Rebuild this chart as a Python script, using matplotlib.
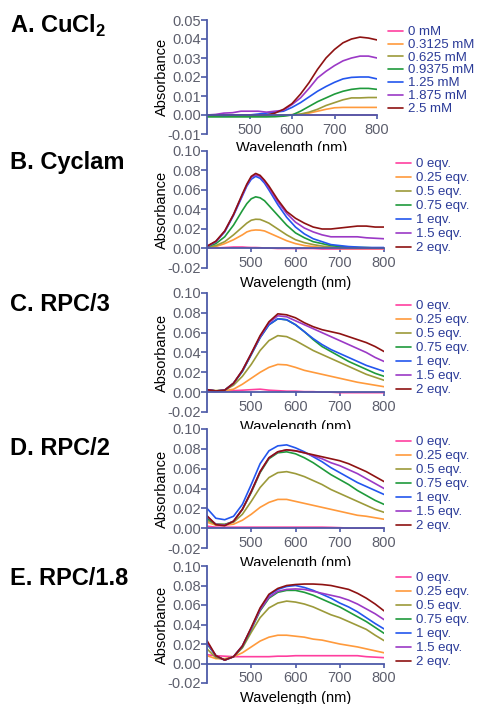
import matplotlib
matplotlib.use("Agg")
import matplotlib.pyplot as plt

plt.rcParams['font.family'] = ['Liberation Sans', 'DejaVu Sans']
plt.rcParams['mathtext.fontset'] = 'custom'
plt.rcParams['mathtext.rm'] = 'Liberation Sans'
plt.rcParams['mathtext.bf'] = 'Liberation Sans:bold'
plt.rcParams['axes.unicode_minus'] = False

# ---------------- data ----------------
wl_a = [400, 420, 440, 460, 480, 500, 520, 540, 560, 580, 600, 620, 640, 660, 680, 700, 720, 740, 760, 780, 800]
cucl2_labels = ["0 mM", "0.3125 mM", "0.625 mM", "0.9375 mM", "1.25 mM", "1.875 mM", "2.5 mM"]
cucl2_0 = [0.0, 0.0, 0.0, 0.0, 0.0, 0.0, 0.0, 0.0, 0.0, 0.0, 0.0, 0.0, 0.0, 0.0, 0.0, 0.0, 0.0, 0.0, 0.0, 0.0, 0.0]
cucl2_1 = [0.0, 0.0, -0.0003, -0.0005, -0.0005, -0.0005, -0.0005, -0.0003, 0.0, 0.0, 0.0002, 0.0004, 0.001, 0.002, 0.003, 0.0038, 0.004, 0.004, 0.004, 0.004, 0.004]
cucl2_2 = [-0.0005, -0.0005, -0.0005, -0.0005, -0.0005, -0.0005, -0.0005, -0.0005, -0.0005, -0.0003, 0.0, 0.0005, 0.0015, 0.003, 0.005, 0.0065, 0.008, 0.009, 0.009, 0.0092, 0.0092]
cucl2_3 = [-0.001, -0.001, -0.001, -0.001, -0.001, -0.001, -0.001, -0.001, -0.0009, -0.0006, 0.0, 0.002, 0.0045, 0.007, 0.009, 0.011, 0.0125, 0.0135, 0.014, 0.014, 0.0135]
cucl2_4 = [0.0, 0.0, -0.0002, 0.0, 0.0, 0.0, 0.0005, 0.001, 0.0015, 0.002, 0.004, 0.0065, 0.0095, 0.0125, 0.015, 0.0172, 0.019, 0.0198, 0.020, 0.020, 0.019]
cucl2_5 = [0.0, 0.0003, 0.001, 0.0012, 0.002, 0.002, 0.002, 0.0015, 0.002, 0.0025, 0.0055, 0.009, 0.014, 0.0195, 0.023, 0.026, 0.0285, 0.030, 0.031, 0.031, 0.030]
cucl2_6 = [0.0, 0.0, 0.0, 0.0, 0.0, 0.0, 0.0, 0.0, 0.001, 0.003, 0.006, 0.011, 0.017, 0.024, 0.030, 0.0345, 0.038, 0.040, 0.041, 0.0405, 0.0395]

eqv_labels = ["0 eqv.", "0.25 eqv.", "0.5 eqv.", "0.75 eqv.", "1 eqv.", "1.5 eqv.", "2 eqv."]

wl_b = [400, 420, 440, 460, 480, 490, 500, 510, 520, 530, 540, 560, 580, 600, 620, 640, 660, 680, 700, 720, 740, 760, 780, 800]
cyclam_0 = [0.0005, 0.0005, 0.001, 0.0015, 0.0015, 0.0012, 0.001, 0.001, 0.0008, 0.0005, 0.0005, 0.0, 0.0, 0.0, 0.0, 0.0, -0.0005, -0.0005, -0.0005, -0.0005, -0.0005, -0.0005, -0.0005, -0.0005]
cyclam_1 = [0.001, 0.002, 0.005, 0.009, 0.014, 0.017, 0.0185, 0.019, 0.0188, 0.018, 0.016, 0.012, 0.008, 0.005, 0.003, 0.002, 0.001, 0.0005, 0.0, 0.0, 0.0, 0.0, 0.0, 0.0]
cyclam_2 = [0.0015, 0.003, 0.007, 0.014, 0.022, 0.026, 0.029, 0.030, 0.0298, 0.028, 0.026, 0.020, 0.014, 0.009, 0.006, 0.004, 0.0025, 0.0015, 0.001, 0.0005, 0.0005, 0.0005, 0.0005, 0.0005]
cyclam_3 = [0.002, 0.005, 0.012, 0.024, 0.039, 0.046, 0.051, 0.053, 0.052, 0.049, 0.044, 0.034, 0.024, 0.016, 0.011, 0.007, 0.005, 0.003, 0.002, 0.0015, 0.001, 0.001, 0.0005, 0.0005]
cyclam_4 = [0.002, 0.007, 0.017, 0.034, 0.054, 0.064, 0.071, 0.074, 0.072, 0.067, 0.060, 0.045, 0.032, 0.022, 0.015, 0.010, 0.007, 0.004, 0.003, 0.002, 0.0015, 0.001, 0.001, 0.001]
cyclam_5 = [0.002, 0.007, 0.0175, 0.035, 0.055, 0.065, 0.073, 0.0755, 0.074, 0.069, 0.062, 0.048, 0.036, 0.027, 0.021, 0.017, 0.014, 0.012, 0.012, 0.012, 0.012, 0.011, 0.0105, 0.010]
cyclam_6 = [0.0024, 0.0075, 0.018, 0.035, 0.056, 0.066, 0.074, 0.077, 0.075, 0.070, 0.064, 0.050, 0.038, 0.031, 0.026, 0.022, 0.020, 0.020, 0.021, 0.022, 0.023, 0.023, 0.022, 0.022]

wl_c = [400, 420, 440, 460, 480, 500, 520, 540, 560, 580, 600, 620, 640, 660, 680, 700, 720, 740, 760, 780, 800]
rpc3_0 = [0.001, 0.0005, 0.001, 0.0015, 0.002, 0.0025, 0.003, 0.002, 0.0015, 0.001, 0.001, 0.0005, 0.0005, 0.0, 0.0, -0.0005, -0.0005, -0.0005, -0.0005, -0.0005, -0.0005]
rpc3_1 = [0.002, 0.0015, 0.0015, 0.003, 0.008, 0.014, 0.020, 0.025, 0.028, 0.0275, 0.025, 0.022, 0.020, 0.018, 0.016, 0.014, 0.012, 0.010, 0.0085, 0.007, 0.0055]
rpc3_2 = [0.002, 0.0015, 0.002, 0.007, 0.016, 0.028, 0.042, 0.052, 0.057, 0.056, 0.052, 0.047, 0.042, 0.038, 0.034, 0.030, 0.026, 0.022, 0.018, 0.015, 0.012]
rpc3_3 = [0.0025, 0.0012, 0.002, 0.009, 0.021, 0.038, 0.055, 0.068, 0.074, 0.073, 0.068, 0.061, 0.053, 0.046, 0.041, 0.036, 0.031, 0.027, 0.023, 0.019, 0.016]
rpc3_4 = [0.0025, 0.0012, 0.002, 0.009, 0.021, 0.038, 0.055, 0.068, 0.074, 0.073, 0.068, 0.061, 0.054, 0.048, 0.043, 0.039, 0.035, 0.031, 0.027, 0.024, 0.021]
rpc3_5 = [0.0025, 0.0012, 0.002, 0.009, 0.022, 0.039, 0.056, 0.070, 0.077, 0.076, 0.072, 0.068, 0.064, 0.060, 0.056, 0.052, 0.048, 0.044, 0.040, 0.035, 0.031]
rpc3_6 = [0.0025, 0.0012, 0.002, 0.009, 0.022, 0.039, 0.057, 0.071, 0.079, 0.078, 0.075, 0.070, 0.066, 0.063, 0.061, 0.059, 0.056, 0.053, 0.050, 0.046, 0.041]

wl_d = [400, 420, 440, 460, 480, 500, 520, 540, 560, 580, 600, 620, 640, 660, 680, 700, 720, 740, 760, 780, 800]
rpc2_0 = [0.002, 0.001, 0.001, 0.001, 0.001, 0.001, 0.001, 0.001, 0.001, 0.001, 0.001, 0.001, 0.001, 0.001, 0.0008, 0.0005, 0.0, 0.0, 0.0, 0.0, 0.0]
rpc2_1 = [0.006, 0.003, 0.003, 0.004, 0.008, 0.014, 0.021, 0.026, 0.029, 0.029, 0.027, 0.025, 0.023, 0.021, 0.019, 0.017, 0.015, 0.013, 0.012, 0.0105, 0.009]
rpc2_2 = [0.008, 0.004, 0.004, 0.006, 0.014, 0.027, 0.041, 0.051, 0.056, 0.057, 0.055, 0.052, 0.048, 0.044, 0.039, 0.035, 0.031, 0.027, 0.023, 0.019, 0.016]
rpc2_3 = [0.010, 0.004, 0.0035, 0.007, 0.019, 0.036, 0.056, 0.070, 0.076, 0.077, 0.075, 0.071, 0.066, 0.060, 0.054, 0.049, 0.044, 0.038, 0.033, 0.028, 0.024]
rpc2_4 = [0.020, 0.010, 0.0085, 0.012, 0.024, 0.044, 0.065, 0.078, 0.083, 0.084, 0.081, 0.077, 0.072, 0.067, 0.061, 0.056, 0.051, 0.046, 0.042, 0.038, 0.034]
rpc2_5 = [0.012, 0.004, 0.003, 0.007, 0.019, 0.037, 0.057, 0.071, 0.077, 0.079, 0.078, 0.076, 0.073, 0.070, 0.066, 0.063, 0.059, 0.055, 0.050, 0.045, 0.040]
rpc2_6 = [0.0125, 0.0035, 0.0025, 0.007, 0.019, 0.037, 0.057, 0.071, 0.077, 0.079, 0.078, 0.076, 0.074, 0.072, 0.070, 0.068, 0.065, 0.061, 0.057, 0.052, 0.047]

wl_e = [400, 420, 440, 460, 480, 500, 520, 540, 560, 580, 600, 620, 640, 660, 680, 700, 720, 740, 760, 780, 800]
rpc18_0 = [0.009, 0.008, 0.0075, 0.007, 0.007, 0.007, 0.007, 0.007, 0.0075, 0.0075, 0.008, 0.008, 0.008, 0.008, 0.008, 0.008, 0.008, 0.008, 0.007, 0.0065, 0.006]
rpc18_1 = [0.008, 0.005, 0.005, 0.007, 0.011, 0.017, 0.023, 0.027, 0.029, 0.029, 0.028, 0.027, 0.025, 0.024, 0.022, 0.020, 0.0185, 0.017, 0.015, 0.013, 0.011]
rpc18_2 = [0.015, 0.006, 0.004, 0.007, 0.016, 0.032, 0.047, 0.057, 0.062, 0.064, 0.063, 0.061, 0.058, 0.054, 0.050, 0.047, 0.043, 0.039, 0.035, 0.029, 0.0235]
rpc18_3 = [0.020, 0.008, 0.0035, 0.007, 0.017, 0.035, 0.054, 0.067, 0.073, 0.075, 0.075, 0.073, 0.070, 0.066, 0.062, 0.058, 0.053, 0.048, 0.043, 0.037, 0.031]
rpc18_4 = [0.021, 0.008, 0.0035, 0.007, 0.018, 0.036, 0.056, 0.070, 0.076, 0.079, 0.080, 0.078, 0.075, 0.071, 0.067, 0.062, 0.058, 0.053, 0.047, 0.041, 0.0355]
rpc18_5 = [0.022, 0.008, 0.0035, 0.007, 0.018, 0.036, 0.055, 0.068, 0.074, 0.076, 0.0765, 0.076, 0.074, 0.072, 0.070, 0.068, 0.065, 0.061, 0.056, 0.051, 0.045]
rpc18_6 = [0.0235, 0.008, 0.0035, 0.007, 0.018, 0.037, 0.057, 0.071, 0.077, 0.080, 0.081, 0.0815, 0.0815, 0.081, 0.080, 0.078, 0.076, 0.072, 0.067, 0.061, 0.054]

colors = ["#ff3f9f", "#ff9a3c", "#9c9a3a", "#1f9a3c", "#2356ee", "#9b39c6", "#8e1212"]
AXC = "#4d5aa8"
TICKC = "#5c5e6c"
LEGC = "#2b3b98"

W, H = 478, 704
fig = plt.figure(figsize=(W / 100, H / 100), dpi=100)

panels = [
    dict(title=r"A. CuCl$_\mathbf{2}$", ty=33, box=(207, 377, 20, 134), ylim=(-0.01, 0.05),
         yticks=[-0.01, 0.0, 0.01, 0.02, 0.03, 0.04, 0.05], wl=wl_a,
         ys=[cucl2_0, cucl2_1, cucl2_2, cucl2_3, cucl2_4, cucl2_5, cucl2_6], labels=cucl2_labels,
         leg=(388, 26), ls=0.06),
    dict(title="B. Cyclam", ty=169, box=(207, 384, 151, 268), ylim=(-0.02, 0.10),
         yticks=[-0.02, 0.0, 0.02, 0.04, 0.06, 0.08, 0.10], wl=wl_b,
         ys=[cyclam_0, cyclam_1, cyclam_2, cyclam_3, cyclam_4, cyclam_5, cyclam_6], labels=eqv_labels,
         leg=(396, 158), ls=0.15),
    dict(title="C. RPC/3", ty=311, box=(207, 384, 293, 412), ylim=(-0.02, 0.10),
         yticks=[-0.02, 0.0, 0.02, 0.04, 0.06, 0.08, 0.10], wl=wl_c,
         ys=[rpc3_0, rpc3_1, rpc3_2, rpc3_3, rpc3_4, rpc3_5, rpc3_6], labels=eqv_labels,
         leg=(396, 300), ls=0.15),
    dict(title="D. RPC/2", ty=455, box=(207, 384, 429, 548), ylim=(-0.02, 0.10),
         yticks=[-0.02, 0.0, 0.02, 0.04, 0.06, 0.08, 0.10], wl=wl_d,
         ys=[rpc2_0, rpc2_1, rpc2_2, rpc2_3, rpc2_4, rpc2_5, rpc2_6], labels=eqv_labels,
         leg=(396, 436), ls=0.15),
    dict(title="E. RPC/1.8", ty=585, box=(207, 384, 566, 683), ylim=(-0.02, 0.10),
         yticks=[-0.02, 0.0, 0.02, 0.04, 0.06, 0.08, 0.10], wl=wl_e,
         ys=[rpc18_0, rpc18_1, rpc18_2, rpc18_3, rpc18_4, rpc18_5, rpc18_6], labels=eqv_labels,
         leg=(396, 572), ls=0.15),
]

for p in panels:
    l, r, t, b = p["box"]
    ax = fig.add_axes([l / W, 1 - b / H, (r - l) / W, (b - t) / H])
    for y, c, lab in zip(p["ys"], colors, p["labels"]):
        ax.plot(p["wl"], y, color=c, lw=1.2, label=lab, solid_capstyle='round')
    ax.set_xlim(400, 800)
    ax.set_ylim(*p["ylim"])
    ax.set_xticks([500, 600, 700, 800])
    ax.set_yticks(p["yticks"])
    ax.yaxis.set_major_formatter(matplotlib.ticker.FormatStrFormatter('%.2f'))
    for s in ["top", "right"]:
        ax.spines[s].set_visible(False)
    ax.spines["bottom"].set_position(("data", 0))
    for s in ["left", "bottom"]:
        ax.spines[s].set_color(AXC)
        ax.spines[s].set_linewidth(1.3)
    ax.tick_params(axis='both', colors=AXC, labelcolor=TICKC, labelsize=10.5, width=1.2)
    ax.tick_params(axis='y', length=4, pad=0.5)
    ax.tick_params(axis='x', length=3, pad=2.5)
    ax.set_ylabel("Absorbance", fontsize=10.5)
    ax.set_xlabel("Wavelength (nm)", fontsize=10.5)
    wpx = r - l
    ax.yaxis.set_label_coords((169 - l) / wpx, 0.5)
    ax.xaxis.set_label_coords(0.5, -0.065)
    lx, ly = p["leg"]
    ax.legend(loc="upper left", bbox_to_anchor=(lx / W, 1 - ly / H), bbox_transform=fig.transFigure,
              frameon=False, fontsize=9.5, labelcolor=LEGC, handlelength=1.15, handletextpad=0.35,
              labelspacing=p["ls"], borderpad=0, borderaxespad=0, handleheight=0.5)
    fig.text(10 / W, 1 - p["ty"] / H, p["title"], fontsize=17, fontweight="bold",
             ha="left", va="baseline", color="black")

fig.savefig("out.png", dpi=100)
